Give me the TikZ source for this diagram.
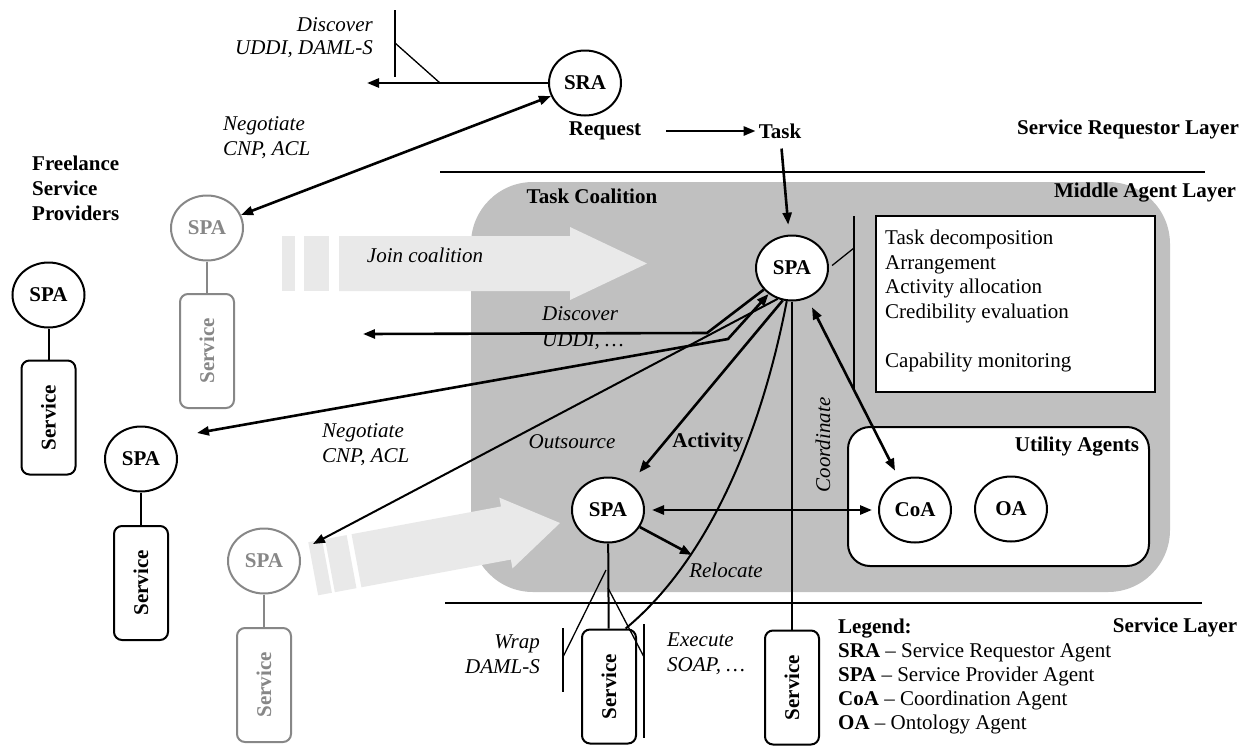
\documentclass[tikz,border=0pt]{standalone}
\usepackage{fontspec}
\setmainfont{Liberation Serif}
\usepackage{graphicx}
\usetikzlibrary{shapes.geometric,arrows.meta}
\definecolor{regiongray}{HTML}{C0C0C0}
\definecolor{joingray}{HTML}{E9E9E9}
\definecolor{fadegray}{HTML}{878787}
\begin{document}
\begin{tikzpicture}[x=1pt,y=-1pt,
  every node/.style={font=\fontsize{21}{25}\selectfont, inner sep=0pt},
  agent/.style={ellipse, draw, line width=2pt, fill=white, minimum width=72pt, minimum height=65pt, font=\fontsize{21}{25}\selectfont\bfseries},
  ghost/.style={agent, draw=fadegray, text=fadegray},
  svc/.style={rectangle, rounded corners=8pt, draw, line width=2pt, fill=white, minimum width=54pt, minimum height=114pt, font=\fontsize{21}{25}\selectfont\bfseries},
  ghostsvc/.style={svc, draw=fadegray, text=fadegray},
  textb/.style={font=\fontsize{21}{25}\selectfont\bfseries},
  texti/.style={font=\fontsize{21}{25}\selectfont\itshape},
  lwtwo/.style={line width=2.6pt},
  lwmid/.style={line width=2pt},
  lwone/.style={line width=1.3pt},
  arr/.style={-{Triangle[length=12pt,width=9pt]}},
  darr/.style={{Triangle[length=12pt,width=9pt]}-{Triangle[length=12pt,width=9pt]}},
]
\useasboundingbox (0,0) rectangle (1256,745);

% coalition region
\fill[regiongray, rounded corners=62pt] (471,182) rectangle (1170,592);

% layer separators
\draw[lwmid] (440,172) -- (1205,172);
\draw[lwmid] (445,603) -- (1202,603);

% join coalition arrows
\fill[joingray] (282,236) rectangle (295,291);
\fill[joingray] (304,236) rectangle (329,291);
\fill[joingray] (339,236) -- (570,236) -- (570,227) -- (647,263.5) -- (570,300) -- (570,291) -- (339,291) -- cycle;
\begin{scope}[shift={(560,523)}, rotate=10.5]
  \fill[joingray] (-251,-27) rectangle (-237,27);
  \fill[joingray] (-234,-27) rectangle (-212,27);
  \fill[joingray] (-207,-27) -- (-55,-27) -- (-55,-36) -- (0,0) -- (-55,36) -- (-55,27) -- (-207,27) -- cycle;
\end{scope}

% function box and utility frame
\node[draw, lwmid, fill=white, minimum width=279pt, minimum height=176pt] (funcbox) at (1015.5,304) {};
\node[anchor=north west, align=left, font=\fontsize{21}{24.5}\selectfont] (functext) at (885,230)
  {Task decomposition\\Arrangement\\Activity allocation\\Credibility evaluation\\[24.5pt]Capability monitoring};
\node[draw, lwmid, fill=white, rounded corners=22pt, minimum width=301pt, minimum height=139pt] (util) at (998.5,496.5) {};
\node[textb] (utillab) at (1077,447) {Utility Agents};

% texts
\node[align=right, anchor=east, font=\fontsize{21}{23}\selectfont\itshape] (discA) at (373,38) {Discover\\UDDI, DAML-S};
\node[textb] (request) at (605,131) {Request};
\node[textb] (task) at (780,131) {Task};
\node[textb] (srl) at (1128,129) {Service Requestor Layer};
\node[textb] (mal) at (1145,193) {Middle Agent Layer};
\node[textb] (tc) at (592,196) {Task Coalition};
\node[textb, align=left, anchor=west] (free) at (32,188) {Freelance\\Service\\Providers};
\node[texti, align=left, anchor=west] (negA) at (223,138) {Negotiate\\CNP, ACL};
\node[texti] (join) at (425,255) {Join coalition};
\node[align=left, anchor=west, font=\fontsize{21}{26}\selectfont\itshape] (discB) at (542,328) {Discover\\UDDI, \dots};
\node[texti, align=left, anchor=west] (negB) at (322,445) {Negotiate\\CNP, ACL};
\node[textb] (act) at (708,442) {Activity};
\node[texti] (outs) at (572,442) {Outsource};
\node[texti] (reloc) at (726,570) {Relocate};
\node[texti, rotate=90] (coord) at (823,445) {Coordinate};
\node[texti, align=right, anchor=east] (wrap) at (540,654) {Wrap\\DAML-S};
\node[texti, align=left, anchor=west] (exec) at (667,654) {Execute\\SOAP, \dots};
\node[textb] (sl) at (1175,627) {Service Layer};
\node[anchor=west, align=left, font=\fontsize{21}{24}\selectfont] (legend) at (838,676)
  {\textbf{Legend:}\\
   \textbf{SRA} \textendash{} Service Requestor Agent\\
   \textbf{SPA} \textendash{} Service Provider Agent\\
   \textbf{CoA} \textendash{} Coordination Agent\\
   \textbf{OA} \textendash{} Ontology Agent};

% agents and services
\node[agent] (sra) at (585,83) {SRA};
\node[ghost] (gspa1) at (207,228) {SPA};
\node[ghostsvc] (gsvc1) at (207,351) {\rotatebox{90}{Service}};
\node[agent] (spaF) at (48.5,295) {SPA};
\node[svc] (svcF) at (48.5,417.5) {\rotatebox{90}{Service}};
\node[agent] (spaL) at (141,459) {SPA};
\node[svc] (svcL2) at (141,583) {\rotatebox{90}{Service}};
\node[ghost] (gspa2) at (264,561) {SPA};
\node[ghostsvc] (gsvc2) at (264,685) {\rotatebox{90}{Service}};
\node[agent] (spaT) at (792,268) {SPA};
\node[agent] (spaM) at (608,510) {SPA};
\node[agent] (coa) at (915,510) {CoA};
\node[agent] (oa) at (1011,509) {OA};
\node[svc] (svcL) at (609,686.5) {\rotatebox{90}{Service}};
\node[svc] (svcR) at (792,687.5) {\rotatebox{90}{Service}};

% free ends
\coordinate (sraD) at (367,83);
\coordinate (dsc) at (707,333);
\coordinate (dscEnd) at (363,334);
\coordinate (ngB) at (728,339);
\coordinate (ngEnd) at (197,433);
\coordinate (outEnd) at (313,544);
\coordinate (relEnd) at (692,555);
\coordinate (brk) at (854,248);

% brackets
\draw[lwone] (395,10) -- (395,77);
\draw[lwone] (395,43) -- (440,83);
\draw[lwmid] (854,216) -- (854,390);
\draw[lwone, shorten <=4pt] (spaT.east) -- (brk);
\draw[lwone] (563,628) -- (563,692);
\draw[lwone] (563,657) -- (606,570);
\draw[lwone] (644,624) -- (644,738);
\draw[lwone] (644,657) -- (608,588);

% connectors
\draw[lwmid] (spaF) -- (svcF);
\draw[lwmid] (spaL) -- (svcL2);
\draw[lwmid, fadegray] (gspa1) -- (gsvc1);
\draw[lwmid, fadegray] (gspa2) -- (gsvc2);
\draw[lwtwo, arr] (sra) -- (sraD);
\draw[lwtwo, darr] (gspa1) -- (sra);
\draw[lwtwo, arr, shorten <=25pt, shorten >=3pt] (request) -- (task);
\draw[lwtwo, arr, shorten <=10pt, shorten >=10pt] (task) -- (spaT);
\draw[lwtwo, arr] (spaT) -- (dsc) -- (dscEnd);
\draw[lwtwo, darr] (spaT) -- (ngB) -- (ngEnd);
\draw[lwmid, arr] (spaT.245) -- (outEnd);
\draw[lwtwo, arr, shorten >=14pt] (spaT.254) -- (spaM);
\draw[lwmid] (spaT.261) .. controls (760,440) and (706,562) .. (svcL.74);
\draw[lwmid] (spaT) -- (svcR);
\draw[lwtwo, darr, shorten <=10pt, shorten >=10pt] (spaT) -- (coa);
\draw[lwtwo, darr, shorten <=7pt, shorten >=6pt] (spaM) -- (coa);
\draw[lwtwo, arr] (spaM) -- (relEnd);
\draw[lwmid] (spaM) -- (svcL);
\end{tikzpicture}
\end{document}
